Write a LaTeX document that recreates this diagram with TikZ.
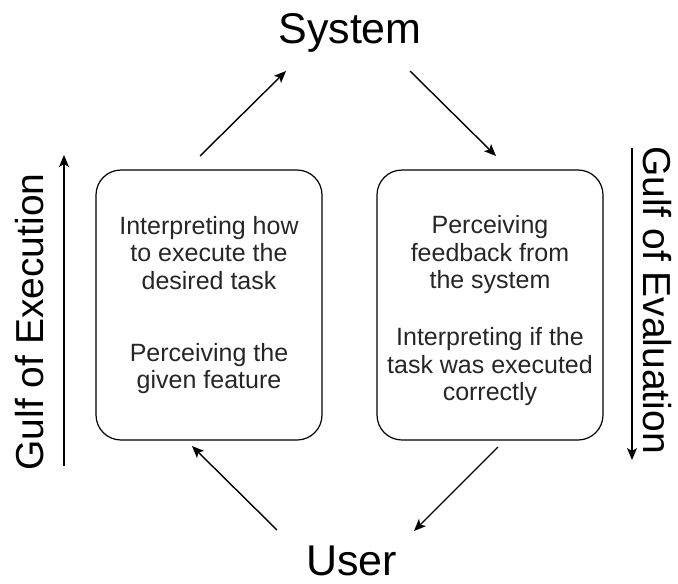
\documentclass[tikz,border=0pt]{standalone}
\usepackage{fontspec}
\setmainfont{Liberation Sans}
\usetikzlibrary{arrows.meta}
\begin{document}
\begin{tikzpicture}[x=1pt,y=-1pt,
  arr/.style={line width=1.4pt,-{Stealth[length=12pt,width=10pt,inset=3pt]}},
  box/.style={draw, line width=1.2pt, rounded corners=25pt, minimum width=226pt, minimum height=270pt, inner sep=0pt},
  boxtext/.style={align=center, font=\fontsize{25}{27.5}\selectfont, inner sep=0pt, text=black!85},
  big/.style={font=\fontsize{43}{50}\selectfont, inner sep=0pt},
  gulf/.style={font=\fontsize{39}{45}\selectfont, inner sep=0pt}]
\useasboundingbox (0,0) rectangle (678,584);
% titles
\node[big, anchor=base] (sys) at (350,43) {System};
\node[big, anchor=base] (usr) at (351.5,575) {User};
% boxes
\node[box] (L) at (209,305) {};
\node[box] (R) at (490,305) {};
\node[boxtext] (Lt) at (209,305) {Interpreting how\\to execute the\\desired task\\[44.5pt]Perceiving the\\given feature};
\node[boxtext] (Rt) at (490,311) {Perceiving\\feedback from\\the system\\[29.5pt]Interpreting if the\\task was executed\\correctly};
% gulf labels
\node[gulf, rotate=90] (ge) at (30,322) {Gulf of Execution};
\node[gulf, rotate=-90] (gv) at (657,300) {Gulf of Evaluation};
% arrow end points
\coordinate (a1s) at (200,156);
\coordinate (a1e) at (286,71);
\coordinate (a2s) at (410,71);
\coordinate (a2e) at (496,156);
\coordinate (a3s) at (498,447);
\coordinate (a3e) at (414,531);
\coordinate (a4s) at (277,530);
\coordinate (a4e) at (192,446);
\coordinate (v1s) at (64,466);
\coordinate (v1e) at (64,155);
\coordinate (v2s) at (632,148);
\coordinate (v2e) at (632,460);
\draw[arr] (a1s) -- (a1e);
\draw[arr] (a2s) -- (a2e);
\draw[arr] (a3s) -- (a3e);
\draw[arr] (a4s) -- (a4e);
\draw[arr] (v1s) -- (v1e);
\draw[arr] (v2s) -- (v2e);
\end{tikzpicture}
\end{document}
